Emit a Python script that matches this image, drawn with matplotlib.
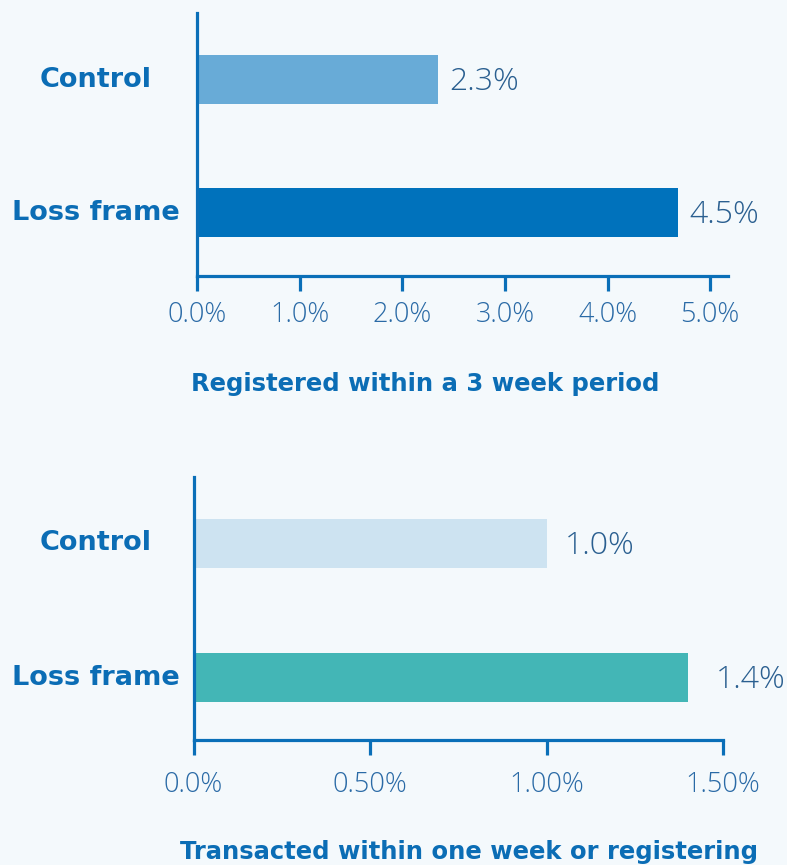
import matplotlib
matplotlib.use("Agg")
import matplotlib.pyplot as plt
import matplotlib.transforms as mtransforms

# data
groups = ["Loss frame", "Control"]
reg_values = [4.69, 2.35]
reg_labels = ["4.5%", "2.3%"]
reg_ticks = [0, 1, 2, 3, 4, 5]
reg_ticklabels = ["0.0%", "1.0%", "2.0%", "3.0%", "4.0%", "5.0%"]

trans_values = [1.40, 1.00]
trans_labels = ["1.4%", "1.0%"]
trans_ticks = [0, 0.5, 1.0, 1.5]
trans_ticklabels = ["0.0%", "0.50%", "1.00%", "1.50%"]

BG = "#f4f9fc"
AXIS = "#0a6fb8"
LABEL = "#0b6db5"
TICK = "#2a6aa6"
VALUE = "#2a5f90"

THIN = ["Open Sans", "DejaVu Sans"]
BOLD = ["DejaVu Sans"]

W, H = 787, 865
fig = plt.figure(figsize=(W / 100, H / 100), dpi=100, facecolor=BG)


def panel(rect, values, labels, colors, ticks, ticklabels, xmax, ylim, gaps, pad):
    ax = fig.add_axes(rect, facecolor=BG)
    ypos = [0, 1]
    ax.barh(ypos, values, height=0.368, color=colors, zorder=2)
    ax.set_xlim(0, xmax)
    ax.set_ylim(*ylim)
    for s in ["top", "right"]:
        ax.spines[s].set_visible(False)
    for s in ["left", "bottom"]:
        ax.spines[s].set_color(AXIS)
        ax.spines[s].set_linewidth(2.3)
    ax.set_yticks([])
    ax.set_xticks(ticks)
    ax.set_xticklabels(ticklabels, fontsize=19.5, color=TICK,
                       family=THIN, fontweight="light")
    ax.tick_params(axis="x", direction="out", length=11, width=2.3,
                   color=AXIS, pad=pad)
    # category labels centred left of the axis
    tr = mtransforms.blended_transform_factory(fig.transFigure, ax.transData)
    for y, g in zip(ypos, groups):
        ax.text(0.122, y, g, transform=tr, ha="center", va="center",
                fontsize=19.5, fontweight="bold", color=LABEL, family=BOLD)
    for y, v, lab, gap in zip(ypos, values, labels, gaps):
        ax.annotate(lab, (v, y), xytext=(gap, -2), textcoords="offset points",
                    ha="left", va="center", fontsize=23, color=VALUE,
                    family=THIN, fontweight="light")
    return ax


panel([197 / W, 1 - 276 / H, 530.6 / W, 263 / H], reg_values, reg_labels,
      ["#0072bc", "#68abd7"], reg_ticks, reg_ticklabels, 5.17,
      (-0.477, 1.5), [8, 8], 7)
fig.text(425 / W, 1 - 384 / H, "Registered within a 3 week period",
         ha="center", va="center", fontsize=17.5, fontweight="bold",
         color=LABEL, family=BOLD)

panel([193.5 / W, 1 - 740 / H, 529.5 / W, 263 / H], trans_values, trans_labels,
      ["#43b6b6", "#cde3f1"], trans_ticks, trans_ticklabels, 1.5,
      (-0.466, 1.496), [20, 13], 11)
fig.text(469 / W, 1 - 852 / H, "Transacted within one week or registering",
         ha="center", va="center", fontsize=17.5, fontweight="bold",
         color=LABEL, family=BOLD)

fig.savefig("out.png", dpi=100, facecolor=BG)
